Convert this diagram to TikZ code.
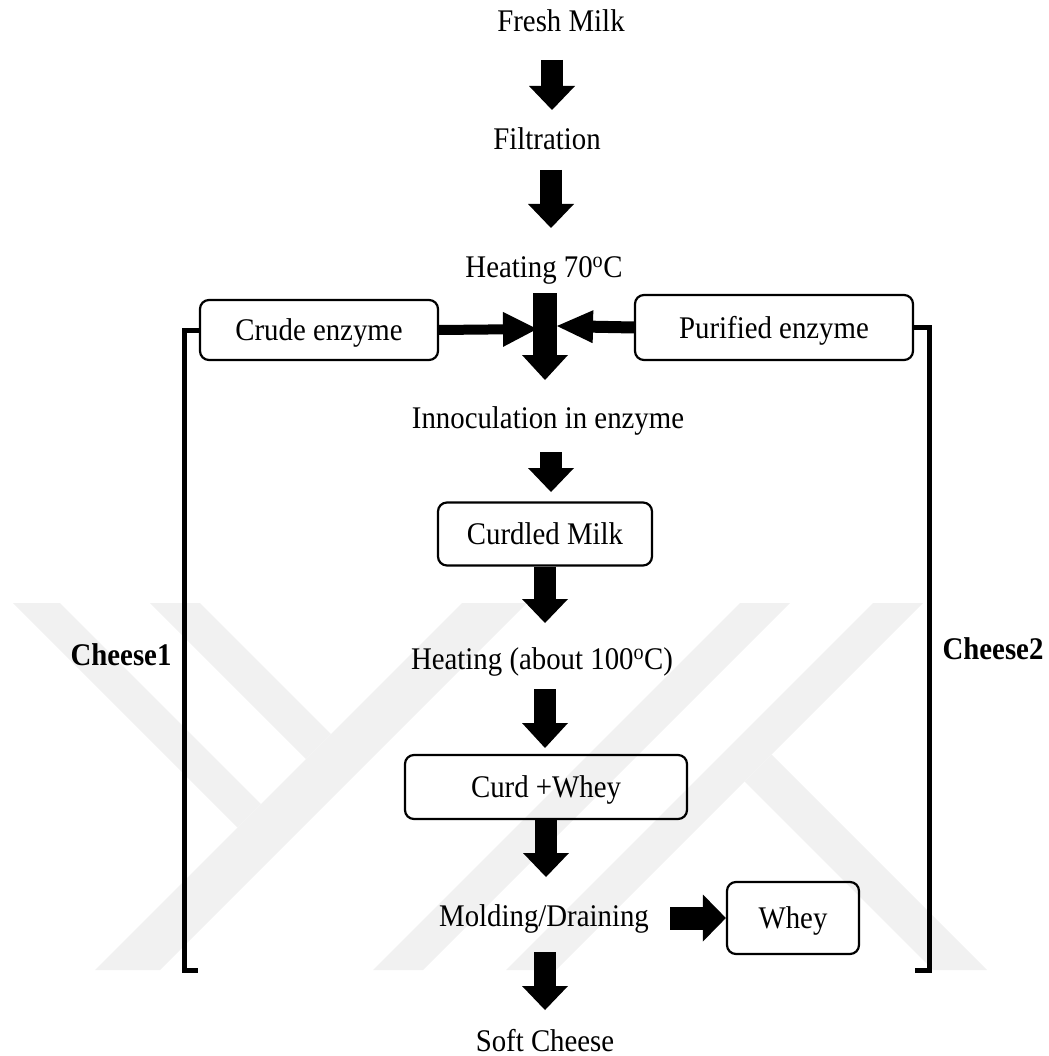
\documentclass[tikz,border=0pt]{standalone}
\usepackage{fontspec}
\setmainfont{Liberation Serif}[FakeStretch=0.915]
\usetikzlibrary{arrows.meta}
\definecolor{wm}{RGB}{241,241,241}
\begin{document}
\begin{tikzpicture}[x=1pt,y=-1pt,
  txt/.style={font=\fontsize{31.5}{36}\selectfont, inner sep=0pt, anchor=base},
  lbl/.style={txt, font=\fontsize{31.5}{36}\selectfont\bfseries},
  box/.style={draw, line width=2.2pt, rounded corners=9pt, inner sep=0pt,
    font=\fontsize{31.5}{36}\selectfont, text height=21pt, text depth=0pt},
  varrow/.style={line width=22pt, -{Triangle[length=24pt,width=46pt,line width=0pt]}},
  brk/.style={line width=5pt, line join=miter},
  band/.style={fill=wm, draw=none}
]
\useasboundingbox (0,0) rectangle (1048,1056);
% watermark
\begin{scope}
\clip (0,603) rectangle (1048,970);
\fill[band] (462,603) -- (527,603) -- (160,970) -- (95,970) -- cycle;
\fill[band] (13,603) -- (60,603) -- (261,804) -- (237.5,827.5) -- cycle;
\fill[band] (150,603) -- (200,603) -- (331,734) -- (306,759) -- cycle;
\fill[band] (740,603) -- (790,603) -- (423,970) -- (373,970) -- cycle;
\fill[band] (873,603) -- (923,603) -- (556,970) -- (506,970) -- cycle;
\fill[band] (771.5,754.5) -- (987,970) -- (933,970) -- (744.5,781.5) -- cycle;
\end{scope}

% text steps
\node[txt] (fresh) at (561,32) {Fresh Milk};
\node[txt] (filt) at (547,150) {Filtration};
\node[txt] (heat1) at (544,277) {Heating 70\textsuperscript{o}C};
\node[txt] (inoc) at (548,428) {Innoculation in enzyme};
\node[txt] (heat2) at (542,669) {Heating (about 100\textsuperscript{o}C)};
\node[txt] (mold) at (544,926) {Molding/Draining};
\node[txt] (soft) at (545,1051) {Soft Cheese};
\node[lbl] (c1) at (121,665) {Cheese1};
\node[lbl] (c2) at (993,659) {Cheese2};

% boxes
\node[box, minimum width=238pt, minimum height=60pt] (crude) at (319,330) {Crude enzyme};
\node[box, minimum width=278pt, minimum height=65pt] (puri) at (774,327.5) {Purified enzyme};
\node[box, minimum width=214pt, minimum height=63pt] (curdled) at (545,534) {Curdled Milk};
\node[box, minimum width=282pt, minimum height=64pt] (curd) at (546,787) {Curd +Whey};
\node[box, minimum width=132pt, minimum height=72pt] (whey) at (793,918) {Whey};

% arrow end points
\coordinate (a1s) at (552,60);  \coordinate (a1e) at (552,110);
\coordinate (a2s) at (551,170); \coordinate (a2e) at (551,228);
\coordinate (a3s) at (545,293); \coordinate (a3e) at (545,380);
\coordinate (jl) at (537,329);  \coordinate (jr) at (557,326);
\coordinate (a4s) at (551,452); \coordinate (a4e) at (551,492);
\coordinate (a5e) at (545,623);
\coordinate (a6s) at (545,689); \coordinate (a6e) at (545,748);
\coordinate (a7e) at (546,877);
\coordinate (a8s) at (545,952); \coordinate (a8e) at (545,1010);
\coordinate (a9s) at (670,918);

\draw[varrow] (a1s) -- (a1e);
\draw[varrow] (a2s) -- (a2e);
\draw[varrow, line width=24pt, -{Triangle[length=25pt,width=46pt,line width=0pt]}] (a3s) -- (a3e);
\draw[line width=10pt, -{Triangle[length=34pt,width=35pt,line width=0pt]}] (crude.east) -- (jl);
\draw[line width=12pt, -{Triangle[length=36pt,width=33pt,line width=0pt]}] (puri.west) -- (jr);
\draw[varrow] (a4s) -- (a4e);
\draw[varrow] (curdled.south) -- (a5e);
\draw[varrow, -{Triangle[length=25pt,width=46pt,line width=0pt]}] (a6s) -- (a6e);
\draw[varrow] (curd.south) -- (a7e);
\draw[varrow] (a8s) -- (a8e);
\draw[line width=23pt, -{Triangle[length=23pt,width=47pt,line width=0pt]}] (a9s) -- (whey.west);

% brackets
\draw[brk] (crude.west) -- (184,330) -- (184,970) -- (198,970);
\draw[brk] (puri.east) -- (929,327.5) -- (929,970) -- (915,970);
\end{tikzpicture}
\end{document}
